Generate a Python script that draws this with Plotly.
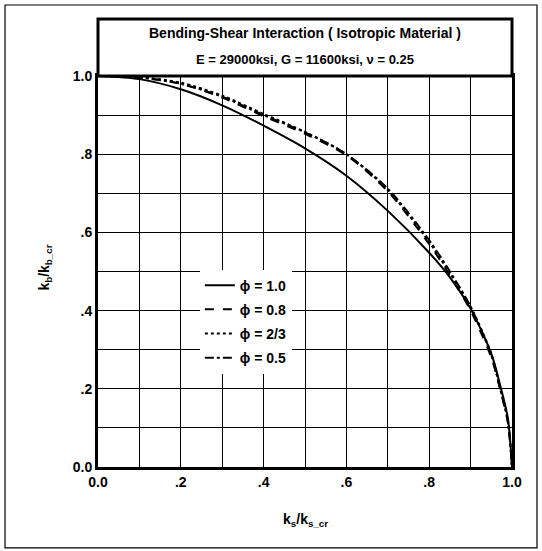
import plotly.graph_objects as go

# ---- data ----
ks_ratio = [0.0, 0.1, 0.2, 0.3, 0.4, 0.5, 0.6, 0.7, 0.8, 0.85, 0.9, 0.95, 0.97, 0.99, 1.0]
kb_phi_10 = [1.0, 0.992, 0.966, 0.925, 0.873, 0.815, 0.745, 0.655, 0.548, 0.485, 0.405, 0.29, 0.215, 0.125, 0.0]
kb_phi_08 = [1.0, 0.996, 0.980, 0.945, 0.897, 0.852, 0.797, 0.705, 0.570, 0.490, 0.400, 0.280, 0.205, 0.115, 0.0]
kb_phi_23 = [1.0, 0.997, 0.983, 0.950, 0.903, 0.857, 0.800, 0.708, 0.575, 0.495, 0.410, 0.290, 0.210, 0.120, 0.0]
kb_phi_05 = [1.0, 0.996, 0.980, 0.947, 0.900, 0.856, 0.800, 0.712, 0.580, 0.500, 0.410, 0.285, 0.205, 0.115, 0.0]

series_names = ["ϕ = 1.0", "ϕ = 0.8", "ϕ = 2/3", "ϕ = 0.5"]
series_values = [kb_phi_10, kb_phi_08, kb_phi_23, kb_phi_05]
series_dash = ["solid", "dash", "dot", "dashdot"]

tick_vals = [0.0, 0.1, 0.2, 0.3, 0.4, 0.5, 0.6, 0.7, 0.8, 0.9, 1.0]
tick_text = ["0.0", "", ".2", "", ".4", "", ".6", "", ".8", "", "1.0"]

title_line1 = "Bending-Shear Interaction ( Isotropic Material )"
title_line2 = "E = 29000ksi, G = 11600ksi, ν = 0.25"

FONT = "Liberation Sans, Arial, sans-serif"

fig = go.Figure()
for i, (name, vals, dash) in enumerate(zip(series_names, series_values, series_dash)):
    fig.add_trace(go.Scatter(
        x=ks_ratio, y=vals, mode="lines", name=name, legendgroup=f"g{i}",
        line=dict(color="black", width=2, dash=dash, shape="spline", smoothing=0.8),
    ))

axis_common = dict(
    range=[0, 1], tickvals=tick_vals, ticktext=tick_text,
    showgrid=True, gridcolor="black", gridwidth=1,
    showline=True, linecolor="black", linewidth=3, mirror=True,
    ticks="", zeroline=False,
    tickfont=dict(family=FONT, size=14, color="black", weight="bold"),
)

fig.update_layout(
    width=542, height=551,
    margin=dict(l=98, r=30, t=76, b=84),
    paper_bgcolor="white", plot_bgcolor="white",
    xaxis=dict(**axis_common),
    yaxis=dict(**axis_common),
    showlegend=True,
    legend=dict(
        x=0.246, y=0.505, xanchor="left", yanchor="top",
        bgcolor="white", borderwidth=0,
        font=dict(family=FONT, size=14, color="black", weight="bold"),
        tracegroupgap=3,
    ),
    font=dict(family=FONT, color="black"),
)

# title box above the plot area
fig.add_shape(type="rect", xref="paper", yref="paper",
              x0=0, x1=1, y0=1, y1=1.1458,
              line=dict(color="black", width=3), fillcolor="white", layer="above")
# outer frame
fig.add_shape(type="rect", xref="paper", yref="paper",
              x0=-0.2246, x1=1.0604, y0=-0.207, y1=1.1816,
              line=dict(color="black", width=1.2))

fig.add_annotation(text="<b>" + title_line1 + "</b>", xref="paper", yref="paper",
                   x=0.5, y=1.110, xanchor="center", yanchor="middle", showarrow=False,
                   font=dict(family=FONT, size=14, color="black"))
fig.add_annotation(text="<b>" + title_line2 + "</b>", xref="paper", yref="paper",
                   x=0.5, y=1.041, xanchor="center", yanchor="middle", showarrow=False,
                   font=dict(family=FONT, size=13, color="black"))

fig.add_annotation(text="<b>k<sub>s</sub>/k<sub>s_cr</sub></b>", xref="paper", yref="paper",
                   x=0.5, y=-0.136, xanchor="center", yanchor="middle", showarrow=False,
                   font=dict(family=FONT, size=14, color="black"))
fig.add_annotation(text="<b>k<sub>b</sub>/k<sub>b_cr</sub></b>", xref="paper", yref="paper",
                   x=-0.128, y=0.51, xanchor="center", yanchor="middle", showarrow=False,
                   textangle=-90,
                   font=dict(family=FONT, size=14, color="black"))

fig.write_html("out.html")
